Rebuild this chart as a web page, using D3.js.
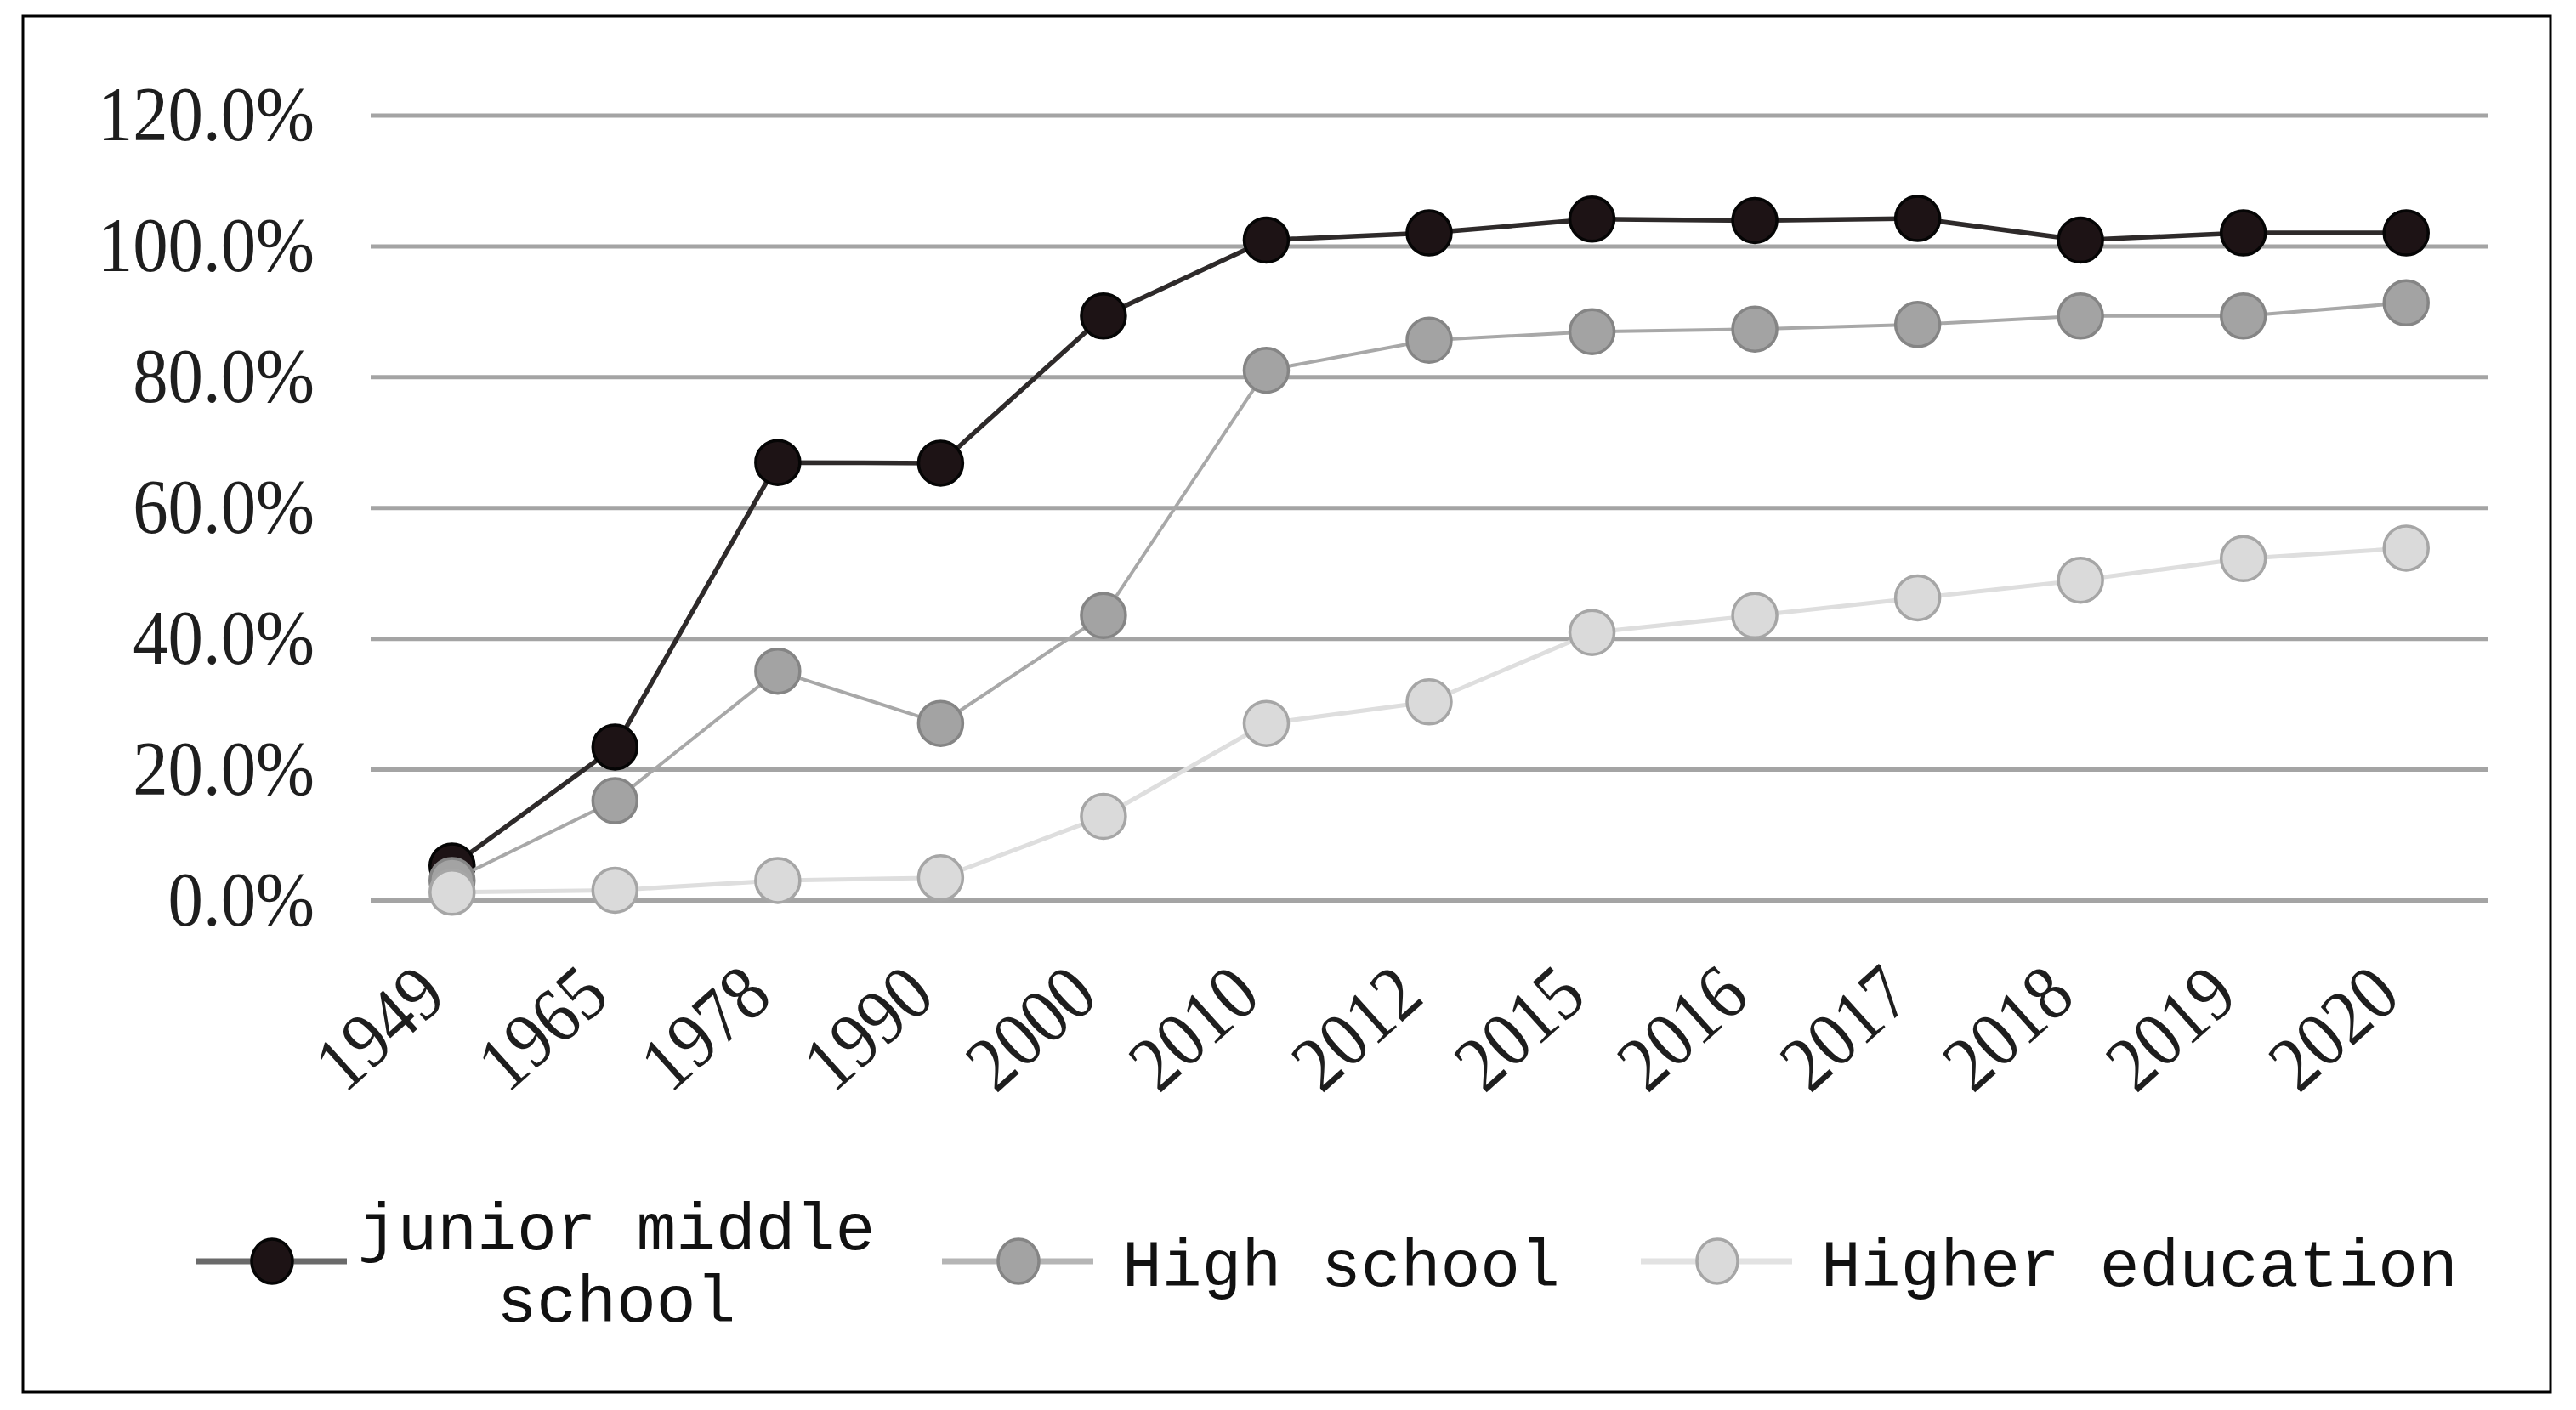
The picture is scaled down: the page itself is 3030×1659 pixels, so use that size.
<!DOCTYPE html>
<html>
<head>
<meta charset="utf-8">
<script src="https://cdn.jsdelivr.net/npm/d3@7"></script>
<style>
    html, body { margin: 0; padding: 0; background: #fff; }
    svg { display: block; }
</style>
</head>
<body>
<div id="chart"></div>
<script>
'use strict';

// Data
const years = ['1949', '1965', '1978', '1990', '2000', '2010', '2012', '2015', '2016', '2017', '2018', '2019', '2020'];
const juniorMiddle = [5.2, 23.4, 66.9, 66.8, 89.3, 100.9, 102.0, 104.1, 103.9, 104.2, 100.9, 102.0, 102.0];
const highSchool = [3.0, 15.2, 35.0, 27.0, 43.5, 81.0, 85.6, 86.9, 87.3, 88.0, 89.3, 89.3, 91.3];
const higherEdu = [1.2, 1.5, 3.0, 3.4, 12.8, 27.0, 30.3, 40.9, 43.5, 46.2, 48.9, 52.2, 53.8];
const seriesNames = ['junior middle school', 'High school', 'Higher education'];
const yTicks = [0, 20, 40, 60, 80, 100, 120];

/*
Chart
 */
class Chart {

    // Configs
    svgW = 3030;
    svgH = 1659;
    plot = {left: 436, right: 2926, top: 135.5, bottom: 1059};
    labelSquish = 0.9;

    // Styles per series
    styles = [
        {line: '#2e2a2a', lineW: 5.5, fill: '#1d1315', stroke: '#050505', legendLine: '#6a6a6a'},
        {line: '#a8a8a8', lineW: 4, fill: '#a3a3a3', stroke: '#858585', legendLine: '#b5b5b5'},
        {line: '#dedede', lineW: 5, fill: '#dadada', stroke: '#a6a6a6', legendLine: '#e2e2e2'}
    ];

    constructor(_target) {
        this.target = _target;
        this.init();
    }

    init() {
        const vis = this;

        vis.svg = d3.select(`#${vis.target}`)
            .append('svg')
            .attr('width', vis.svgW)
            .attr('height', vis.svgH);

        vis.svg.append('rect')
            .attr('width', vis.svgW)
            .attr('height', vis.svgH)
            .attr('fill', '#fff');

        // Frame
        vis.svg.append('rect')
            .attr('x', 27)
            .attr('y', 19)
            .attr('width', 2973)
            .attr('height', 1619)
            .attr('fill', 'none')
            .attr('stroke', '#000')
            .attr('stroke-width', 3);

        // Scales
        vis.x = d3.scalePoint()
            .domain(years)
            .range([vis.plot.left, vis.plot.right])
            .padding(0.5);
        vis.y = d3.scaleLinear()
            .domain([0, 120])
            .range([vis.plot.bottom, vis.plot.top]);

        vis.series = seriesNames.map((name, i) => ({
            name: name,
            values: [juniorMiddle, highSchool, higherEdu][i].map((v, j) => ({year: years[j], value: v}))
        }));

        vis.render();
    }

    render() {
        const vis = this;
        const serif = '"Liberation Serif", "Times New Roman", serif';
        const sq = vis.labelSquish;

        // Y axis + gridlines
        const yAxisG = vis.svg.append('g')
            .attr('transform', `translate(${vis.plot.left},0)`)
            .call(d3.axisLeft(vis.y)
                .tickValues(yTicks)
                .tickSize(-(vis.plot.right - vis.plot.left))
                .tickPadding(0)
                .tickFormat(d => d3.format('.1f')(d) + '%'));
        yAxisG.select('.domain').remove();
        yAxisG.selectAll('.tick line')
            .attr('stroke', '#a4a4a4')
            .attr('stroke-width', 5);
        yAxisG.selectAll('.tick text')
            .attr('font-family', serif)
            .attr('font-size', 92)
            .attr('fill', '#1e1e1e')
            .attr('x', -66 / sq)
            .attr('transform', `scale(${sq},1)`);

        // X axis labels
        const xAxisG = vis.svg.append('g')
            .attr('transform', `translate(0,${vis.plot.bottom})`)
            .call(d3.axisBottom(vis.x).tickSize(0));
        xAxisG.select('.domain').remove();
        xAxisG.selectAll('.tick text')
            .attr('font-family', serif)
            .attr('font-size', 92)
            .attr('fill', '#1e1e1e')
            .attr('text-anchor', 'end')
            .attr('y', 0)
            .attr('dy', 0)
            .attr('transform', `translate(-4,118) rotate(-42) scale(${sq},1)`);

        // Series
        const lineMaker = d3.line()
            .x(d => vis.x(d.year))
            .y(d => vis.y(d.value));

        vis.series.forEach((s, i) => {
            const st = vis.styles[i];
            const g = vis.svg.append('g').attr('class', 'seriesG');
            g.append('path')
                .attr('d', lineMaker(s.values))
                .attr('fill', 'none')
                .attr('stroke', st.line)
                .attr('stroke-width', st.lineW)
                .attr('stroke-linejoin', 'round');
            g.selectAll('circle')
                .data(s.values)
                .join('circle')
                .attr('cx', d => vis.x(d.year))
                .attr('cy', d => vis.y(d.value))
                .attr('r', 26)
                .attr('fill', st.fill)
                .attr('stroke', st.stroke)
                .attr('stroke-width', 3.5);
        });

        // Legend
        const legendX = [320, 1198, 2020];
        const legendY = 1484;
        const legendLines = [['junior middle', 'school'], ['High school'], ['Higher education']];
        const legendG = vis.svg.append('g').attr('class', 'legendG');
        vis.series.forEach((s, i) => {
            const st = vis.styles[i];
            const cx = legendX[i];
            legendG.append('line')
                .attr('x1', cx - 90).attr('x2', cx + 88)
                .attr('y1', legendY).attr('y2', legendY)
                .attr('stroke', st.legendLine)
                .attr('stroke-width', 7);
            legendG.append('ellipse')
                .attr('cx', cx).attr('cy', legendY)
                .attr('rx', 24).attr('ry', 26)
                .attr('fill', st.fill)
                .attr('stroke', st.stroke)
                .attr('stroke-width', 3.5);
            const t = legendG.append('text')
                .attr('font-family', '"Liberation Mono", "Courier New", monospace')
                .attr('font-size', 78)
                .attr('fill', '#111');
            const lines = legendLines[i];
            if (lines.length > 1) {
                t.attr('text-anchor', 'middle');
                lines.forEach((ln, k) => {
                    t.append('tspan')
                        .attr('x', 725)
                        .attr('y', 1470 + k * 85)
                        .text(ln);
                });
            } else {
                t.attr('x', cx + 122)
                    .attr('y', 1513)
                    .text(lines[0]);
            }
        });
    }
}

new Chart('chart');
</script>
</body>
</html>
